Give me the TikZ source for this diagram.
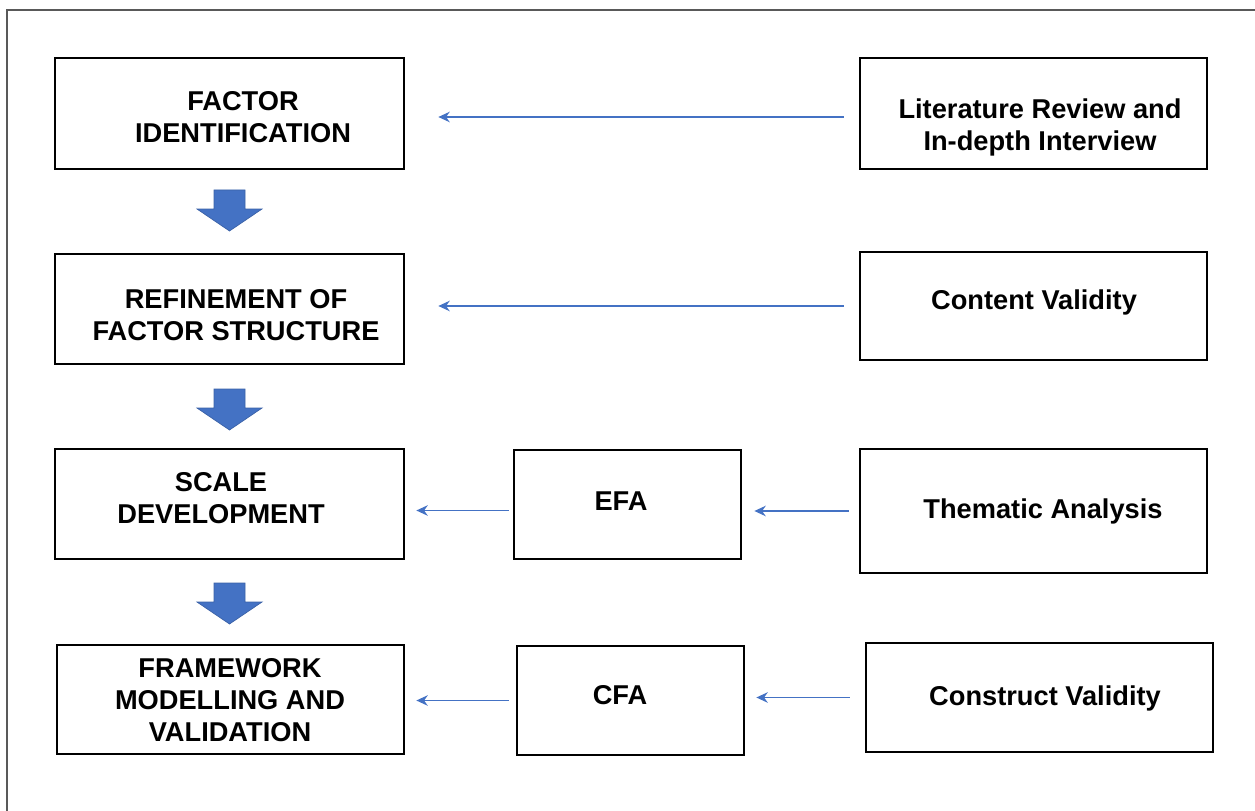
\documentclass[tikz,border=0pt]{standalone}
\usepackage{fontspec}
\setmainfont{Liberation Sans}
\usetikzlibrary{arrows.meta}

\definecolor{officeblue}{RGB}{68,114,196}

\tikzset{
    box/.style={draw, line width=1.6pt, inner sep=0pt},
    txt/.style={align=center, inner sep=0pt, font=\fontsize{15.5}{18.2}\selectfont\bfseries},
    thinarrow/.style={-{Stealth[length=6.5pt,width=6pt]}, color=officeblue, line width=0.75pt},
    blockarrow/.style={fill=officeblue, draw=officeblue!85!black, line width=0.4pt}
}

\begin{document}
\begin{tikzpicture}[x=0.02cm, y=-0.02cm]
    \useasboundingbox (0,0) rectangle (1255,811);
    \draw [gray!70!black, line width=0.8pt] (7,811) -- (7,10) -- (1255,10);

    % left column
    \node [box, minimum width=6.98cm, minimum height=2.22cm] (fi) at (229.5,113.5) {};
    \node [box, minimum width=6.98cm, minimum height=2.2cm] (rf) at (229.5,309) {};
    \node [box, minimum width=6.98cm, minimum height=2.2cm] (sd) at (229.5,504) {};
    \node [box, minimum width=6.94cm, minimum height=2.18cm] (fm) at (230.5,699.5) {};
    \node [txt] (fitext) at (243,117) {FACTOR\\IDENTIFICATION};
    \node [txt] (rftext) at (236,315) {REFINEMENT OF\\FACTOR STRUCTURE};
    \node [txt] (sdtext) at (221,498) {SCALE\\DEVELOPMENT};
    \node [txt] (fmtext) at (230,700) {FRAMEWORK\\MODELLING AND\\VALIDATION};

    % middle column
    \node [box, minimum width=4.54cm, minimum height=2.18cm] (efa) at (627.5,504.5) {};
    \node [box, minimum width=4.54cm, minimum height=2.18cm] (cfa) at (630.5,700.5) {};
    \node [txt] (efatext) at (621,501) {EFA};
    \node [txt] (cfatext) at (620,695) {CFA};

    % right column
    \node [box, minimum width=6.94cm, minimum height=2.22cm] (lr) at (1033.5,113.5) {};
    \node [box, minimum width=6.94cm, minimum height=2.16cm] (cv) at (1033.5,306) {};
    \node [box, minimum width=6.94cm, minimum height=2.48cm] (ta) at (1033.5,511) {};
    \node [box, minimum width=6.94cm, minimum height=2.18cm] (cov) at (1039.5,697.5) {};
    \node [txt] (lrtext) at (1040,127) {Literature Review and\\In-depth Interview};
    \node [txt] (cvtext) at (1034,302) {Content Validity};
    \node [txt] (tatext) at (1043,511) {Thematic Analysis};
    \node [txt] (covtext) at (1045,698) {Construct Validity};

    % thin arrows
    \draw [thinarrow, shorten <=0.3cm, shorten >=0.66cm] ([yshift=-0.07cm]lr.west) -- ([yshift=-0.07cm]lr.west -| fi.east);
    \draw [thinarrow, shorten <=0.3cm, shorten >=0.66cm] (cv.west) -- (cv.west -| rf.east);
    \draw [thinarrow, shorten <=0.2cm, shorten >=0.24cm] (ta.west) -- (ta.west -| efa.east);
    \draw [thinarrow, shorten <=0.08cm, shorten >=0.22cm] ([yshift=-0.12cm]efa.west) -- ([yshift=-0.12cm]efa.west -| sd.east);
    \draw [thinarrow, shorten <=0.3cm, shorten >=0.22cm] (cov.west) -- (cov.west -| cfa.east);
    \draw [thinarrow, shorten <=0.14cm, shorten >=0.22cm] (cfa.west) -- (cfa.west -| fm.east);

    % block arrows between steps
    \foreach \t in {190,389,583} {
        \draw [blockarrow] (214,\t) -- (245,\t) -- (245,\t+19) -- (262,\t+19)
            -- (229.5,\t+41) -- (197,\t+19) -- (214,\t+19) -- cycle;
    }
\end{tikzpicture}
\end{document}
